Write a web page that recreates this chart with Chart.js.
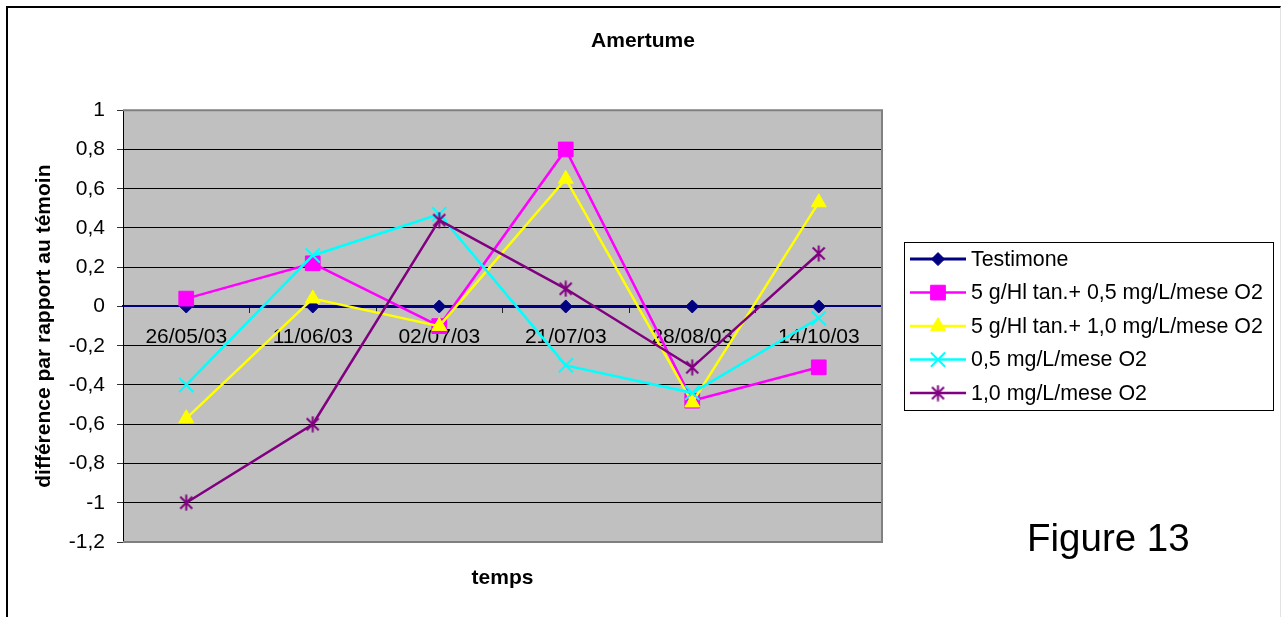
<!DOCTYPE html>
<html>
<head>
<meta charset="utf-8">
<script src="https://cdn.jsdelivr.net/npm/chart.js@4.4.1/dist/chart.umd.min.js"></script>
<style>
  html, body { margin: 0; padding: 0; background: #fff; overflow: hidden; }
  #frame { position: absolute; left: 6px; top: 6px; width: 1275px; height: 630px; box-sizing: border-box;
           border-top: 2px solid #000; border-left: 2px solid #000; border-right: 1px solid #e2e2e2; }
  #wrap { position: absolute; left: 0; top: 0; width: 1281px; height: 617px; }
</style>
</head>
<body>
<div id="frame"></div>
<div id="wrap"><canvas id="c" width="1281" height="617"></canvas></div>
<script>
// Sampling dates
const categories = ['26/05/03', '11/06/03', '02/07/03', '21/07/03', '28/08/03', '14/10/03'];

// Bitterness difference versus the control, per treatment
const testimone   = [0, 0, 0, 0, 0, 0];
const tan05       = [0.04, 0.22, -0.10, 0.80, -0.48, -0.31];
const tan10       = [-0.57, 0.04, -0.10, 0.65, -0.49, 0.53];
const ox05        = [-0.40, 0.26, 0.47, -0.30, -0.44, -0.06];
const ox10        = [-1.00, -0.60, 0.44, 0.09, -0.31, 0.27];

const seriesNames = [
  'Testimone',
  '5 g/Hl tan.+ 0,5 mg/L/mese O2',
  '5 g/Hl tan.+ 1,0 mg/L/mese O2',
  '0,5 mg/L/mese O2',
  '1,0 mg/L/mese O2'
];

// Y axis range
const yMin = -1.2, yMax = 1, yStep = 0.2;

Chart.defaults.font.family = '"Liberation Sans", Arial, sans-serif';
Chart.defaults.color = '#000';

// Asterisk marker: a cross with a vertical bar through it
function asteriskMarker(color) {
  const c = document.createElement('canvas');
  c.width = 17; c.height = 17;
  const g = c.getContext('2d');
  g.strokeStyle = color;
  g.lineWidth = 2;
  g.beginPath();
  g.moveTo(2.5, 2.5); g.lineTo(14.5, 14.5);
  g.moveTo(14.5, 2.5); g.lineTo(2.5, 14.5);
  g.moveTo(8.5, 0.5); g.lineTo(8.5, 16.5);
  g.stroke();
  return c;
}

const looks = [
  { color: '#000080', style: 'rectRot',  radius: 6.5, border: 1, width: 3 },
  { color: '#FF00FF', style: 'rect',     radius: 10.4, border: 1, width: 2.5 },
  { color: '#FFFF00', style: 'triangle', radius: 8.6, border: 1, width: 2.5 },
  { color: '#00FFFF', style: 'crossRot', radius: 10,  border: 2, width: 2.5 },
  { color: '#800080', style: asteriskMarker('#800080'), radius: 8, border: 2, width: 2.5 }
];

const values = [testimone, tan05, tan10, ox05, ox10];

const datasets = values.map((vals, i) => ({
  label: seriesNames[i],
  data: vals,
  order: values.length - i,
  borderColor: looks[i].color,
  backgroundColor: looks[i].color,
  borderWidth: looks[i].width,
  tension: 0,
  fill: false,
  pointStyle: looks[i].style,
  pointRadius: looks[i].radius,
  pointBackgroundColor: looks[i].color,
  pointBorderColor: looks[i].color,
  pointBorderWidth: looks[i].border
}));

function fmtTick(v) {
  return String(Number(v.toFixed(1))).replace('.', ',');
}

// Grey plot background and frame
const plotFrame = {
  id: 'plotFrame',
  beforeDraw(chart) {
    const { ctx, chartArea: a } = chart;
    ctx.save();
    ctx.fillStyle = '#C0C0C0';
    ctx.fillRect(a.left, a.top, a.right - a.left, a.bottom - a.top);
    ctx.restore();
  },
  beforeDatasetsDraw(chart) {
    const { ctx, chartArea: a } = chart;
    ctx.save();
    ctx.strokeStyle = '#808080';
    ctx.lineWidth = 2;
    ctx.beginPath();
    ctx.moveTo(a.left, a.top); ctx.lineTo(a.right, a.top);
    ctx.lineTo(a.right, a.bottom); ctx.lineTo(a.left, a.bottom);
    ctx.stroke();
    ctx.restore();
  }
};

// Boxed legend at the right of the plot, plus the figure caption
const sideLegend = {
  id: 'sideLegend',
  afterDraw(chart) {
    const { ctx, chartArea: a } = chart;
    const ds = chart.data.datasets;
    const x0 = a.right + 22, w = 369, h = 168, rowH = 33.5;
    const cy = (a.top + a.bottom) / 2;
    ctx.save();
    ctx.fillStyle = '#fff';
    ctx.fillRect(x0, cy - h / 2, w, h);
    ctx.strokeStyle = '#000';
    ctx.lineWidth = 1;
    ctx.strokeRect(x0 + 0.5, Math.round(cy - h / 2) + 0.5, w, h);
    ds.forEach((d, i) => {
      const y = cy + (i - (ds.length - 1) / 2) * rowH;
      ctx.strokeStyle = d.borderColor;
      ctx.lineWidth = d.borderWidth;
      ctx.beginPath();
      ctx.moveTo(x0 + 6, y); ctx.lineTo(x0 + 62, y);
      ctx.stroke();
      ctx.fillStyle = d.pointBackgroundColor;
      ctx.strokeStyle = d.pointBorderColor;
      ctx.lineWidth = d.pointBorderWidth;
      Chart.helpers.drawPoint(ctx, {
        pointStyle: d.pointStyle, radius: d.pointRadius, rotation: 0, borderWidth: d.pointBorderWidth
      }, x0 + 34, y);
      ctx.fillStyle = '#000';
      ctx.font = '21.4px "Liberation Sans", Arial, sans-serif';
      ctx.textAlign = 'left';
      ctx.textBaseline = 'middle';
      ctx.fillText(d.label, x0 + 67, y + 1);
    });
    ctx.font = '38.5px "Liberation Sans", Arial, sans-serif';
    ctx.textBaseline = 'alphabetic';
    ctx.fillStyle = '#000';
    ctx.fillText('Figure 13', a.right + 145, a.bottom + 9);
    ctx.restore();
  }
};

new Chart(document.getElementById('c'), {
  type: 'line',
  data: { labels: categories, datasets: datasets },
  plugins: [plotFrame, sideLegend],
  options: {
    responsive: false,
    animation: false,
    events: [],
    layout: { padding: { left: 5, right: 0, top: 0, bottom: 0 } },
    plugins: {
      legend: { display: false },
      tooltip: { enabled: false },
      title: {
        display: true,
        text: 'Amertume',
        color: '#000',
        font: { size: 21, weight: 'bold' },
        padding: { top: 29, bottom: 56 }
      }
    },
    scales: {
      x: {
        type: 'category',
        position: { y: 0 },
        offset: true,
        grid: { display: true, offset: true, drawOnChartArea: false, drawTicks: true,
                tickLength: 6, tickColor: '#222', tickWidth: 1 },
        border: { display: true, color: '#000080', width: 2 },
        ticks: { color: '#000', font: { size: 21 }, padding: 12, maxRotation: 0, autoSkip: false }
      },
      xt: {
        type: 'category',
        position: 'bottom',
        labels: categories,
        grid: { display: false, drawTicks: false },
        border: { display: false },
        ticks: { display: false },
        title: { display: true, text: 'temps', color: '#000',
                 font: { size: 21, weight: 'bold' }, padding: { top: 0, bottom: 26 } },
        afterFit(s) { s.height = 75; }
      },
      y: {
        type: 'linear',
        position: 'left',
        min: yMin,
        max: yMax,
        ticks: { stepSize: yStep, color: '#000', font: { size: 21 }, padding: 12, callback: fmtTick },
        grid: { color: '#000', lineWidth: 1, tickLength: 6, tickColor: '#333' },
        border: { display: true, color: '#000', width: 1 },
        title: { display: true, text: 'différence par rapport au témoin', color: '#000',
                 font: { size: 21, weight: 'bold' }, padding: { top: 27, bottom: 0 } },
        afterFit(s) { s.width = 118; }
      },
      side: {
        type: 'linear',
        position: 'right',
        grid: { display: false, drawTicks: false },
        border: { display: false },
        ticks: { display: false },
        afterFit(s) { s.width = 399; }
      }
    }
  }
});
</script>
</body>
</html>
